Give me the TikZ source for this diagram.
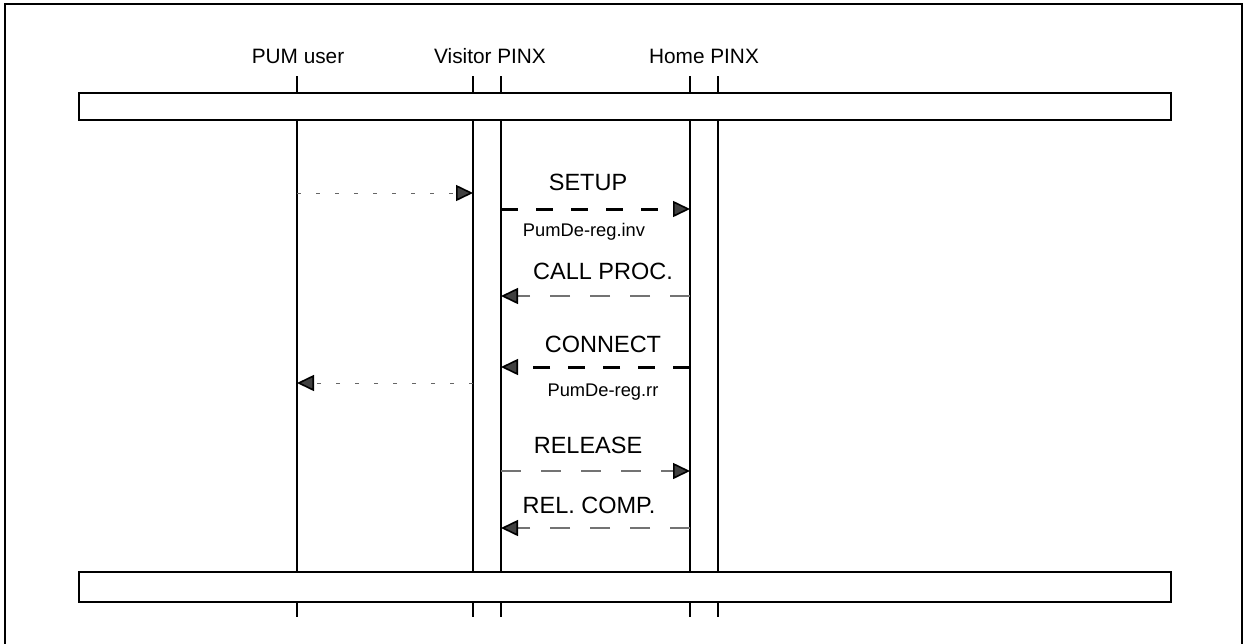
\documentclass[tikz,border=0pt]{standalone}
\usepackage{fontspec}
\setmainfont{Liberation Sans}
\usetikzlibrary{arrows.meta}
\tikzset{
  x=1pt, y=-1pt,
  frame/.style={line width=2.4pt, draw=black},
  bar/.style={line width=2.4pt, draw=black, fill=white},
  life/.style={line width=1.9pt, draw=black},
  tip/.style={-{Triangle[length=17pt,width=16pt,color=black,fill=black!75,line width=1.6pt]}},
  dotmsg/.style={tip, draw=black!60, line width=1pt, dash pattern=on 4pt off 15pt},
  thickmsg/.style={tip, draw=black, line width=3pt, dash pattern=on 17pt off 18pt},
  thinmsg/.style={tip, draw=black!55, line width=1.2pt, dash pattern=on 20pt off 20pt},
  head/.style={font=\fontsize{20.8}{24}\selectfont, anchor=base},
  big/.style={font=\fontsize{23.5}{28}\selectfont, anchor=base},
  small/.style={font=\fontsize{18.3}{22}\selectfont, anchor=base},
}
\begin{document}
\begin{tikzpicture}
\useasboundingbox (0,0) rectangle (1246,643);
\draw[frame] (5,4) rectangle (1242,660);

% lifeline coordinates
\foreach \n/\x in {pu/297, va/473, vb/501, ha/690, hb/718}{
  \coordinate (\n t1) at (\x,76);
  \coordinate (\n t2) at (\x,92);
  \coordinate (\n m1) at (\x,120);
  \coordinate (\n m2) at (\x,572);
  \coordinate (\n b1) at (\x,602);
  \coordinate (\n b2) at (\x,617);
  \draw[life] (\n t1) -- (\n t2);
  \draw[life] (\n m1) -- (\n m2);
  \draw[life] (\n b1) -- (\n b2);
}

% bars
\draw[bar] (79,93) rectangle (1171,120) node[coordinate] (topbar) {};
\draw[bar] (79,572) rectangle (1171,602) node[coordinate] (botbar) {};

% headers
\node[head] (hpu) at (298,63) {PUM user};
\node[head] (hvp) at (490,63) {Visitor PINX};
\node[head] (hhp) at (704,63) {Home PINX};

% message coordinates
\coordinate (d1s) at (297,193); \coordinate (d1e) at (473,193);
\coordinate (s1s) at (501,209); \coordinate (s1e) at (690,209);
\coordinate (c1s) at (690,296); \coordinate (c1e) at (501,296);
\coordinate (n1s) at (690,367); \coordinate (n1e) at (501,367);
\coordinate (d2s) at (473,383); \coordinate (d2e) at (297,383);
\coordinate (r1s) at (501,471); \coordinate (r1e) at (690,471);
\coordinate (r2s) at (690,528); \coordinate (r2e) at (501,528);

\draw[dotmsg] (d1s) -- (d1e);
\draw[thickmsg] (s1s) -- (s1e);
\draw[thinmsg] (c1s) -- (c1e);
\draw[thickmsg] (n1s) -- (n1e);
\draw[dotmsg] (d2s) -- (d2e);
\draw[thinmsg] (r1s) -- (r1e);
\draw[thinmsg] (r2s) -- (r2e);

% labels
\node[big] (lsetup) at (588,190) {SETUP};
\node[small] (linv) at (584,236) {PumDe-reg.inv};
\node[big] (lcall) at (603,279) {CALL PROC.};
\node[big] (lconn) at (603,352) {CONNECT};
\node[small] (lrr) at (603,396) {PumDe-reg.rr};
\node[big] (lrel) at (588,453) {RELEASE};
\node[big] (lrc) at (589,513) {REL. COMP.};
\end{tikzpicture}
\end{document}
